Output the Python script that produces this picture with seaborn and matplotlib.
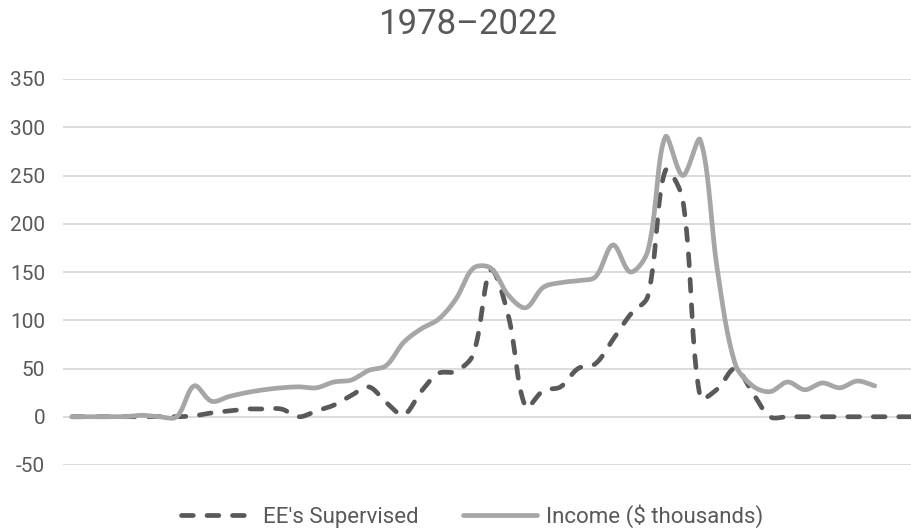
import numpy as np
import pandas as pd
import matplotlib
matplotlib.use("Agg")
import matplotlib.pyplot as plt
import seaborn as sns

# values (one point per category)
ee_supervised = [0, 0, 0, 0, 0, 0, 0, 1, 4, 6, 8, 8, 8, 0, 6, 12, 22, 31, 15, 2,
                 26, 45, 47, 65, 152, 105, 10, 27, 31, 50, 55, 80, 106, 125, 255, 225,
                 20, 29, 50, 25, 0, 0, 0, 0, 0, 0, 0, 0, 0, 0]
income = [0, 0, 0, 0, 1.5, 0, 0, 32, 16, 21, 25, 28, 30, 31, 30, 36, 38, 48, 53, 77,
          91, 101, 122, 154, 154, 126, 113, 134, 139, 141, 145, 178, 150, 172, 290, 250,
          287, 150, 55, 32, 26, 36, 28, 35, 30, 37, 32]
series_names = ["EE's Supervised", "Income ($ thousands)"]
y_ticks = [-50, 0, 50, 100, 150, 200, 250, 300, 350]
title = "1978–2022"

DARK = "#595959"
LIGHT = "#a6a6a6"
GRID = "#d9d9d9"

# pixels per category / per unit, used only to shape the smoothed curve like Excel
PX_X, PX_Y = 17.45, 0.966


def smooth(vals, tension=1 / 3, n=24):
    # Excel-like smoothed line: cubic Bezier through each point
    p = np.column_stack([np.arange(len(vals)) * PX_X, np.asarray(vals, float) * PX_Y])
    m = len(p)
    out = [p[0]]
    t = np.linspace(0, 1, n)[1:, None]
    for i in range(m - 1):
        p0 = p[i - 1] if i > 0 else p[i]
        p1, p2 = p[i], p[i + 1]
        p3 = p[i + 2] if i + 2 < m else p[i + 1]
        d01 = np.hypot(*(p1 - p0))
        d12 = np.hypot(*(p2 - p1))
        d23 = np.hypot(*(p3 - p2))
        c1 = p1 + tension * (p2 - p0) * (d12 / (d01 + d12)) if d01 + d12 > 0 else p1
        c2 = p2 - tension * (p3 - p1) * (d12 / (d12 + d23)) if d12 + d23 > 0 else p2
        seg = ((1 - t) ** 3) * p1 + 3 * ((1 - t) ** 2) * t * c1 + 3 * (1 - t) * t ** 2 * c2 + t ** 3 * p2
        out.extend(seg)
    out = np.array(out)
    return out[:, 0] / PX_X, out[:, 1] / PX_Y


frames = []
for name, vals in zip(series_names, [ee_supervised, income]):
    xs, ys = smooth(vals)
    frames.append(pd.DataFrame({"x": xs, "value": ys, "series": name}))
df = pd.concat(frames, ignore_index=True)

sns.set_theme(style="white")
plt.rcParams["font.family"] = ["Roboto", "DejaVu Sans"]
plt.rcParams["axes.unicode_minus"] = False

fig = plt.figure(figsize=(9.11, 5.29), dpi=100)
ax = fig.add_axes([63.3 / 911, 64 / 529, 1 - 63.3 / 911, 386 / 529])

sns.lineplot(data=df, x="x", y="value", hue="series", style="series",
             palette=[DARK, LIGHT], dashes=[(2.5, 2.9), ""], linewidth=3.4,
             estimator=None, sort=False, ax=ax,
             dash_capstyle="round", solid_capstyle="round")

ax.set_xlim(-0.5, 48.08)
ax.set_ylim(-50, 350)
ax.set_yticks(y_ticks)
ax.set_xticks([])
ax.set_xlabel("")
ax.set_ylabel("")
ax.yaxis.grid(True, color=GRID, linewidth=1.3)
ax.set_axisbelow(True)
for s in ax.spines.values():
    s.set_visible(False)
ax.tick_params(axis="y", length=0, pad=13, labelsize=15, labelcolor=DARK)

handles, labels = ax.get_legend_handles_labels()
ax.get_legend().remove()
leg = fig.legend(handles, labels, loc="center", bbox_to_anchor=(0.518, 0.024),
                 ncol=2, frameon=False, fontsize=16, handlelength=3.3,
                 handletextpad=0.4, columnspacing=2.0, labelcolor=DARK)
for line, col, dash in zip(leg.get_lines(), [DARK, LIGHT], [True, False]):
    line.set_linewidth(3.4)
    line.set_color(col)
    line.set_dash_capstyle("round")
    line.set_solid_capstyle("round")
    if dash:
        line.set_dashes((2.5, 2.9))

fig.text(0.513, 1 - 24 / 529, title, ha="center", va="center",
         fontsize=25, color=DARK)

fig.savefig("out.png", dpi=100)
